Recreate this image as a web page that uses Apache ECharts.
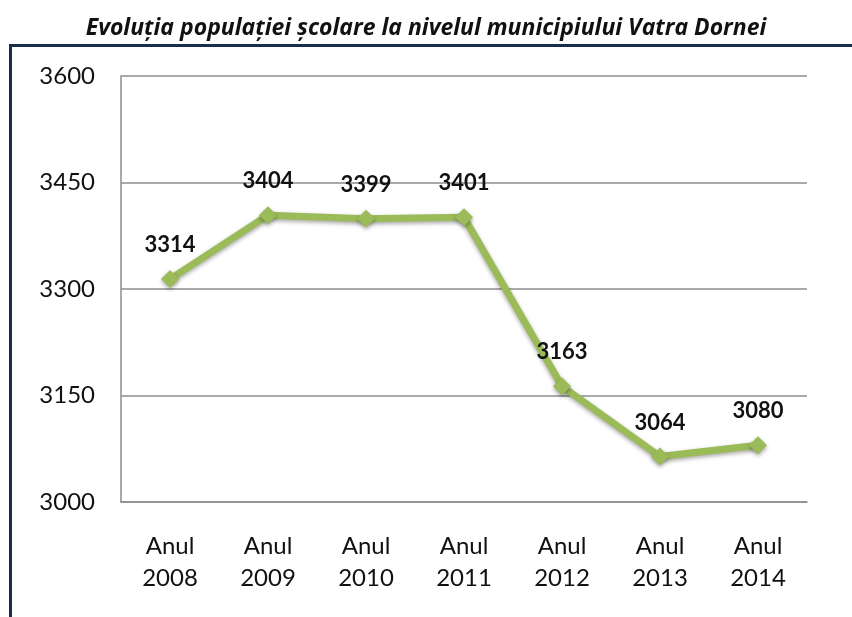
<!DOCTYPE html>
<html><head><meta charset="utf-8">
<script src="https://cdn.jsdelivr.net/npm/echarts@6/dist/echarts.min.js"></script>
<style>html,body{margin:0;padding:0;background:#fff}#c{width:852px;height:617px}</style>
</head><body><div id="c"></div>
<script>
const titleText = 'Evoluția populației școlare la nivelul municipiului Vatra Dornei';
const categories = ['Anul\n2008','Anul\n2009','Anul\n2010','Anul\n2011','Anul\n2012','Anul\n2013','Anul\n2014'];
const values = [3314, 3404, 3399, 3401, 3163, 3064, 3080];
const yMin = 3000, yMax = 3600, yStep = 150;

const chart = echarts.init(document.getElementById('c'));
chart.setOption({
  animation: false,
  backgroundColor: '#fff',
  title: {
    text: titleText, left: 'center', top: 12,
    textStyle: {fontFamily: 'Open Sans', fontStyle: 'italic', fontWeight: 'bold', fontSize: 23, color: '#111'}
  },
  graphic: [{
    type: 'rect', shape: {x: 10.5, y: 45.5, width: 900, height: 700},
    style: {fill: 'none', stroke: '#1b2d4d', lineWidth: 3}, silent: true, z: -1
  }],
  grid: {left: 121, right: 45, top: 76, bottom: 115, containLabel: false},
  xAxis: {
    type: 'category', data: categories, boundaryGap: true,
    axisLine: {show: true, lineStyle: {color: '#8c8c8c', width: 1.5}},
    axisTick: {show: false},
    axisLabel: {fontFamily: 'Lato', fontSize: 24, color: '#111', lineHeight: 32, margin: 28, interval: 0}
  },
  yAxis: {
    type: 'value', min: yMin, max: yMax, interval: yStep,
    axisLine: {show: true, lineStyle: {color: '#8c8c8c', width: 1.5}},
    axisTick: {show: false},
    splitLine: {lineStyle: {color: '#8c8c8c', width: 1.5}},
    axisLabel: {fontFamily: 'Lato', fontSize: 24, color: '#111', margin: 26, formatter: v => String(v)}
  },
  series: [{
    type: 'line', data: values,
    symbol: 'diamond', symbolSize: 18,
    lineStyle: {color: '#9bbb59', width: 7, shadowColor: 'rgba(0,0,0,0.35)', shadowBlur: 4, shadowOffsetY: 2},
    itemStyle: {color: '#9bbb59', shadowColor: 'rgba(0,0,0,0.35)', shadowBlur: 4, shadowOffsetY: 2},
    label: {show: true, position: 'top', distance: 14, fontFamily: 'Lato', fontWeight: 'bold', fontSize: 22, color: '#111'}
  }]
});
</script></body></html>
